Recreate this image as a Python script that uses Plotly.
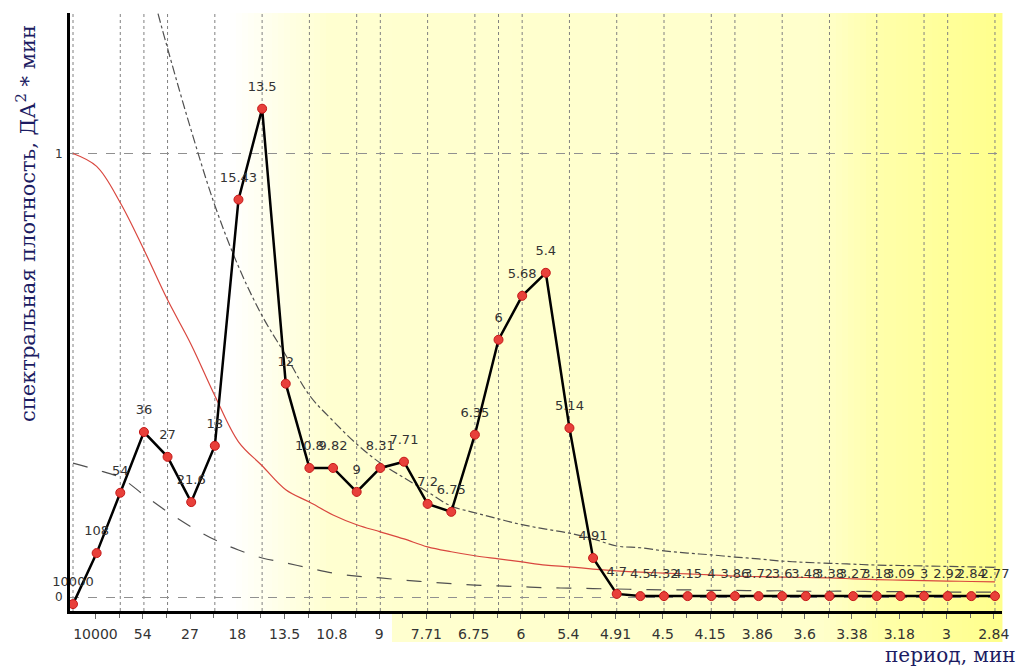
import plotly.graph_objects as go

# ---------------- data ----------------
period_labels = ["10000", "108", "54", "36", "27", "21.6", "18", "15.43", "13.5", "12",
                 "10.8", "9.82", "9", "8.31", "7.71", "7.2", "6.75", "6.35", "6", "5.68",
                 "5.4", "5.14", "4.91", "4.7", "4.5", "4.32", "4.15", "4", "3.86", "3.72",
                 "3.6", "3.48", "3.38", "3.27", "3.18", "3.09", "3", "2.92", "2.84", "2.77"]

spectrum = [-0.016, 0.099, 0.235, 0.372, 0.316, 0.214, 0.341, 0.896, 1.101, 0.481,
            0.291, 0.291, 0.237, 0.291, 0.305, 0.210, 0.192, 0.366, 0.580, 0.679,
            0.731, 0.381, 0.088, 0.007, 0.002, 0.002, 0.002, 0.002, 0.002, 0.002,
            0.002, 0.002, 0.002, 0.002, 0.002, 0.002, 0.002, 0.002, 0.002, 0.002]

red_curve = [1.000, 0.971, 0.889, 0.783, 0.670, 0.569, 0.454, 0.350, 0.296, 0.242,
             0.214, 0.185, 0.163, 0.147, 0.131, 0.113, 0.102, 0.093, 0.086, 0.079,
             0.072, 0.068, 0.063, 0.059, 0.056, 0.054, 0.052, 0.050, 0.047, 0.046,
             0.045, 0.044, 0.043, 0.041, 0.039, 0.038, 0.037, 0.036, 0.035, 0.034]

lower_dash = [0.302, 0.287, 0.269, 0.230, 0.192, 0.158, 0.129, 0.106, 0.088, 0.077,
              0.065, 0.054, 0.047, 0.043, 0.038, 0.034, 0.030, 0.027, 0.025, 0.023,
              0.021, 0.020, 0.019, 0.018, 0.017, 0.016, 0.016, 0.015, 0.015, 0.014,
              0.014, 0.013, 0.013, 0.013, 0.012, 0.012, 0.012, 0.011, 0.011, 0.011]

upper_dash = [None, None, None, 1.433, 1.237, 1.052, 0.883, 0.745, 0.634, 0.545,
              0.455, 0.397, 0.345, 0.302, 0.269, 0.237, 0.205, 0.190, 0.176, 0.163,
              0.153, 0.144, 0.131, 0.115, 0.111, 0.104, 0.099, 0.095, 0.090, 0.086,
              0.081, 0.078, 0.076, 0.074, 0.072, 0.071, 0.070, 0.069, 0.068, 0.067]

# indices where vertical dashed grid lines are drawn
grid_idx = [0, 2, 3, 4, 6, 8, 10, 12, 13, 15, 17, 18, 19, 21, 23, 25, 27, 28, 30, 32, 34, 36, 37, 39]

idx = list(range(len(period_labels)))

# ---------------- geometry ----------------
W, H = 1023, 666
L, R, T, B = 70, 1002, 13, 611          # plot area in pixels
pw, ph = R - L, B - T

def px2paper_x(px):
    return (px - L) / pw

def px2paper_y(py):
    return (B - py) / ph

fig = go.Figure()

# ---------------- background gradient ----------------
stops = [(230, (255, 255, 255)), (330, (255, 255, 208)), (820, (255, 255, 204)),
         (880, (255, 255, 170)), (1002, (255, 255, 140))]

def color_at(px):
    if px <= stops[0][0]:
        return stops[0][1]
    for (x0, c0), (x1, c1) in zip(stops[:-1], stops[1:]):
        if px <= x1:
            t = (px - x0) / (x1 - x0)
            return tuple(round(a + (b - a) * t) for a, b in zip(c0, c1))
    return stops[-1][1]

shapes = []
step = 6
x = 230
while x < R:
    x_end = min(x + step, R)
    c = color_at(x + step / 2)
    col = "rgb(%d,%d,%d)" % c
    shapes.append(dict(type="rect", xref="paper", yref="paper",
                       x0=px2paper_x(x), x1=px2paper_x(x_end) + 0.0005,
                       y0=px2paper_y(B), y1=px2paper_y(T),
                       fillcolor=col, line=dict(width=0), layer="below"))
    if x >= 390:
        shapes.append(dict(type="rect", xref="paper", yref="paper",
                           x0=px2paper_x(x), x1=px2paper_x(x_end) + 0.0005,
                           y0=px2paper_y(642), y1=px2paper_y(B),
                           fillcolor=col, line=dict(width=0), layer="below"))
    x = x_end

# vertical dashed grid lines
for g in grid_idx:
    shapes.append(dict(type="line", xref="x", yref="paper", x0=g, x1=g, y0=0, y1=1,
                       line=dict(color="#808080", width=1, dash="3px,3px"), layer="below"))

# ---------------- traces ----------------
fig.add_trace(go.Scatter(x=idx, y=upper_dash, mode="lines", line_shape="spline",
                         line=dict(color="#505050", width=1.2, dash="dashdot"),
                         hoverinfo="skip", showlegend=False))
fig.add_trace(go.Scatter(x=idx, y=lower_dash, mode="lines", line_shape="spline",
                         line=dict(color="#505050", width=1.2, dash="longdash"),
                         hoverinfo="skip", showlegend=False))
fig.add_trace(go.Scatter(x=idx, y=red_curve, mode="lines", line_shape="spline",
                         line=dict(color="#d9473f", width=1.2),
                         hoverinfo="skip", showlegend=False))
fig.add_trace(go.Scatter(x=idx, y=spectrum, mode="lines+markers",
                         line=dict(color="black", width=2.5),
                         marker=dict(size=9, color="#e8403a", line=dict(color="#c41818", width=1)),
                         showlegend=False))
fig.add_trace(go.Scatter(x=idx, y=spectrum, mode="markers+text", text=period_labels,
                         textposition="top center", cliponaxis=False,
                         textfont=dict(family="DejaVu Sans", size=13, color="#333333"),
                         marker=dict(size=22, color="rgba(0,0,0,0)"),
                         hoverinfo="skip", showlegend=False))

tick_vals = [k + 0.95 for k in idx if k % 2 == 0]
tick_text = [lbl for k, lbl in zip(idx, period_labels) if k % 2 == 0]

fig.update_layout(
    width=W, height=H,
    margin=dict(l=L, r=W - R, t=T, b=H - B),
    paper_bgcolor="white", plot_bgcolor="white",
    shapes=shapes,
    xaxis=dict(range=[(L - 73) / 23.64, (R - 73) / 23.64], showgrid=False, zeroline=False,
               showline=True, linecolor="black", linewidth=3,
               tickmode="array", tickvals=tick_vals, ticktext=tick_text,
               ticks="outside", ticklen=5, tickcolor="#666666", tickwidth=1,
               minor=dict(tickmode="array", tickvals=[k + 0.95 for k in idx if k % 2 == 1],
                          ticks="outside", ticklen=4, tickcolor="#666666"),
               ticklabelstandoff=3,
               tickfont=dict(family="DejaVu Sans", size=14, color="#333333")),
    yaxis=dict(range=[(597 - B) / 443.5, (597 - T) / 443.5], tickmode="array",
               tickvals=[0, 1], ticktext=["0", "1"],
               showgrid=True, gridcolor="#909090", gridwidth=1, griddash="dash",
               zeroline=False, showline=True, linecolor="black", linewidth=3,
               ticks="", ticklabelstandoff=2,
               tickfont=dict(family="DejaVu Sans", size=12, color="#333333")),
    annotations=[
        dict(text="спектральная плотность, ДА<sup>2</sup> * мин", textangle=-90,
             xref="paper", yref="paper", x=px2paper_x(26), y=px2paper_y(224),
             xanchor="center", yanchor="middle", showarrow=False,
             font=dict(family="DejaVu Serif", size=21, color="#1c1c62")),
        dict(text="период, мин", xref="paper", yref="paper",
             x=px2paper_x(1018), y=px2paper_y(655), xanchor="right", yanchor="middle",
             showarrow=False, font=dict(family="DejaVu Serif", size=20, color="#1c1c62")),
    ],
)

fig.write_html("out.html", config={"displayModeBar": False},
               post_script="document.body.style.margin='0';")
